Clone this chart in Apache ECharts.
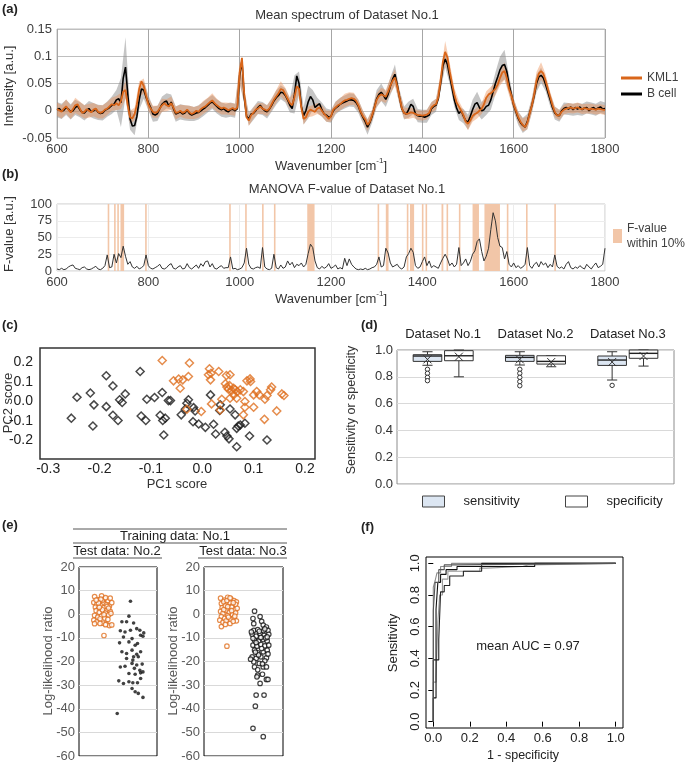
<!DOCTYPE html>
<html><head><meta charset="utf-8">
<script src="https://cdn.jsdelivr.net/npm/echarts@6/dist/echarts.min.js"></script>
<style>html,body{margin:0;padding:0;background:#fff}#c{width:685px;height:764px}</style>
</head><body><div id="c"></div>
<script>
const FONT = 'Liberation Sans, Arial, Helvetica, sans-serif';

// ---------- (a) mean spectra, 600-1800 cm-1, every 5 cm-1 ----------
const wnStart = 600, wnStep = 5;
const kml1Mean = [
0.003,0.001,-0.002,0.004,0.008,0.002,-0.003,0.003,0.010,0.012,0.004,-0.004,-0.002,0.003,0.000,-0.003,0.002,0.004,-0.002,-0.004,
-0.002,0.002,0.004,0.008,0.012,0.010,0.014,0.010,0.018,0.035,0.038,0.010,-0.012,-0.014,-0.006,0.012,0.040,0.054,0.045,0.028,
0.012,0.004,-0.002,-0.004,-0.002,0.004,0.010,0.014,0.010,0.008,0.014,0.006,-0.004,-0.003,0.000,-0.004,-0.002,0.002,-0.003,-0.006,
-0.004,0.000,-0.002,0.003,0.006,0.008,0.012,0.016,0.019,0.014,0.010,0.007,0.004,0.006,0.004,0.001,0.003,0.005,0.002,0.006,
0.070,0.097,0.030,-0.012,-0.018,-0.008,-0.004,0.002,0.004,0.008,0.004,0.002,0.000,0.004,0.012,0.020,0.026,0.032,0.040,0.038,
0.030,0.022,0.014,0.010,0.025,0.045,0.040,0.005,-0.015,-0.012,-0.002,0.002,0.000,-0.002,0.004,0.006,0.000,-0.006,-0.010,-0.015,
-0.010,0.002,0.006,0.010,0.012,0.016,0.019,0.020,0.022,0.023,0.022,0.018,0.010,-0.002,-0.010,-0.016,-0.026,-0.020,-0.008,0.005,
0.020,0.027,0.030,0.028,0.026,0.035,0.046,0.055,0.061,0.045,0.025,0.005,-0.004,-0.006,-0.005,-0.003,-0.004,-0.006,-0.008,-0.008,
-0.009,-0.008,-0.007,-0.004,0.006,0.010,0.012,0.025,0.055,0.090,0.108,0.098,0.072,0.050,0.030,0.015,0.008,0.000,-0.008,-0.020,
-0.024,-0.018,-0.010,-0.006,-0.004,0.000,0.004,0.012,0.024,0.030,0.032,0.036,0.040,0.048,0.060,0.070,0.073,0.060,0.040,0.028,
0.012,0.000,-0.012,-0.020,-0.026,-0.030,-0.022,-0.005,0.010,0.030,0.055,0.068,0.073,0.068,0.055,0.040,0.025,0.010,-0.002,-0.009,
-0.008,-0.002,0.002,0.004,0.005,0.006,0.004,0.005,0.006,0.004,0.003,0.005,0.004,0.002,0.004,0.003,0.002,0.004,0.003,0.002,0.001];
const bcellMean = [
0.002,0.004,-0.001,0.001,0.006,0.003,-0.002,0.000,0.006,0.009,0.002,-0.003,-0.004,0.001,0.004,-0.002,0.000,0.003,-0.003,-0.005,
-0.004,0.001,0.003,0.006,0.010,0.012,0.020,0.022,0.015,0.060,0.080,0.030,-0.015,-0.028,-0.027,-0.010,0.020,0.040,0.038,0.025,
0.015,0.006,-0.006,-0.008,-0.005,0.004,0.012,0.016,0.018,0.008,0.016,0.004,-0.006,-0.004,-0.002,-0.006,-0.004,0.001,-0.005,-0.008,
-0.006,-0.004,-0.003,0.000,0.003,0.006,0.010,0.014,0.016,0.012,0.008,0.004,0.002,0.004,0.000,-0.002,0.002,0.003,0.000,0.004,
0.065,0.092,0.025,-0.010,-0.015,-0.006,-0.005,0.000,0.006,0.010,0.004,0.000,-0.002,0.003,0.010,0.018,0.024,0.028,0.034,0.033,
0.028,0.020,0.010,0.004,0.030,0.064,0.050,0.008,-0.009,0.000,0.016,0.026,0.020,0.006,0.010,0.013,0.002,-0.006,-0.008,-0.012,
-0.010,0.000,0.005,0.008,0.012,0.014,0.016,0.018,0.020,0.020,0.019,0.015,0.008,-0.003,-0.012,-0.020,-0.030,-0.022,-0.010,0.006,
0.022,0.030,0.034,0.028,0.021,0.030,0.045,0.058,0.067,0.048,0.025,0.004,-0.004,-0.006,0.002,0.012,0.008,-0.006,-0.009,-0.010,
-0.010,-0.012,-0.010,-0.008,0.004,0.008,0.010,0.022,0.050,0.082,0.095,0.085,0.063,0.042,0.020,0.005,-0.005,0.000,-0.010,-0.018,
-0.021,-0.010,0.002,0.012,0.015,0.006,0.000,0.002,0.008,0.010,0.020,0.035,0.050,0.062,0.075,0.083,0.085,0.072,0.048,0.030,
0.010,-0.002,-0.014,-0.022,-0.027,-0.030,-0.020,-0.004,0.010,0.028,0.050,0.062,0.065,0.060,0.048,0.034,0.020,0.006,-0.004,-0.008,
-0.009,0.000,0.004,0.006,0.003,0.007,0.002,0.006,0.003,0.007,0.002,0.005,0.006,0.000,0.004,0.006,0.002,0.005,0.007,0.003,0.004];
// band half-widths (standard deviation), every 10 cm-1
const sdStep = 10;
const kml1Sd = [
0.012,0.012,0.013,0.012,0.014,0.013,0.012,0.013,0.012,0.012,
0.012,0.012,0.012,0.013,0.015,0.016,0.012,0.012,0.014,0.014,
0.012,0.011,0.011,0.012,0.011,0.012,0.012,0.011,0.012,0.012,
0.011,0.011,0.012,0.012,0.013,0.012,0.011,0.011,0.011,0.011,
0.020,0.012,0.010,0.010,0.010,0.010,0.010,0.011,0.012,0.014,
0.012,0.010,0.012,0.010,0.010,0.010,0.010,0.010,0.010,0.010,
0.010,0.010,0.011,0.012,0.012,0.011,0.010,0.010,0.011,0.010,
0.012,0.012,0.012,0.014,0.015,0.011,0.010,0.010,0.009,0.009,
0.009,0.009,0.009,0.010,0.014,0.020,0.016,0.012,0.010,0.010,
0.012,0.010,0.010,0.010,0.012,0.012,0.012,0.014,0.016,0.012,
0.010,0.010,0.012,0.012,0.012,0.016,0.016,0.012,0.010,0.010,
0.009,0.009,0.009,0.009,0.009,0.009,0.009,0.009,0.009,0.009,0.009];
const bcellSd = [
0.014,0.014,0.014,0.014,0.014,0.014,0.014,0.014,0.014,0.014,
0.014,0.014,0.016,0.018,0.045,0.055,0.020,0.018,0.018,0.016,
0.014,0.014,0.014,0.014,0.014,0.014,0.014,0.014,0.014,0.014,
0.013,0.013,0.013,0.013,0.013,0.013,0.013,0.013,0.013,0.013,
0.016,0.012,0.012,0.012,0.012,0.012,0.012,0.012,0.013,0.013,
0.013,0.013,0.035,0.022,0.016,0.030,0.018,0.014,0.013,0.012,
0.012,0.012,0.012,0.012,0.012,0.012,0.012,0.012,0.014,0.012,
0.016,0.016,0.014,0.016,0.018,0.014,0.012,0.015,0.014,0.012,
0.012,0.012,0.012,0.012,0.013,0.015,0.014,0.012,0.012,0.013,
0.014,0.018,0.020,0.016,0.016,0.018,0.020,0.024,0.027,0.016,
0.012,0.012,0.014,0.014,0.014,0.016,0.014,0.012,0.012,0.012,
0.011,0.011,0.011,0.011,0.011,0.011,0.011,0.011,0.011,0.011,0.011];

// ---------- (b) MANOVA F-value, every 5 cm-1 ----------
const fValue = [
3,2,4,2,3,6,8,9,4,3,2,5,6,3,2,3,5,7,3,2,
4,8,24,5,6,25,12,26,20,37,22,10,14,6,4,7,3,5,8,24,
8,4,3,5,7,10,4,3,5,9,11,4,3,6,8,3,4,11,5,3,
6,9,4,11,7,14,15,6,11,4,3,6,8,4,5,5,21,3,4,2,
3,5,12,34,10,4,3,5,6,4,35,6,3,2,4,25,5,3,9,4,
6,15,9,13,5,10,8,12,6,10,26,40,35,15,5,3,7,4,6,11,
4,6,9,3,5,3,19,8,18,10,6,3,2,3,2,4,2,3,5,6,
10,21,6,8,34,27,12,6,8,10,5,3,6,21,26,34,28,8,4,6,
14,21,8,15,5,8,6,4,12,19,25,18,8,12,6,10,35,8,12,18,
8,14,25,30,44,48,29,15,22,34,62,87,75,50,37,35,18,29,10,6,
12,5,8,4,6,10,35,8,4,10,13,6,14,9,12,5,10,6,24,7,
4,6,3,10,14,5,3,6,4,8,5,3,10,6,3,8,12,5,7,10,34];
const shadeStart = [711,725,732,739,793,977,1012,1049,1075,1148,1302,1320,1366,1373,1399,1407,1442,1453,1480,1510,1536,1585,1627,1689];
const shadeEnd   = [713,728,735,747,796,979,1015,1051,1077,1164,1305,1326,1368,1382,1401,1409,1446,1455,1482,1524,1570,1587,1629,1691];

// ---------- (c) PCA scores [PC1, PC2] ----------
const pcaBcell = [[-0.255,-0.085],[-0.244,0.022],[-0.218,0.044],[-0.211,-0.017],[-0.213,-0.125],[-0.187,-0.026],[-0.187,0.132],[-0.174,0.080],[-0.174,-0.070],[-0.164,-0.097],[-0.161,0.009],[-0.156,-0.005],[-0.150,0.039],[-0.121,0.154],[-0.119,-0.074],[-0.110,-0.097],[-0.108,0.012],[-0.093,0.021],[-0.078,0.046],[-0.082,-0.070],[-0.077,-0.097],[-0.072,-0.085],[-0.075,-0.171],[-0.066,0.005],[-0.062,0.005],[-0.041,-0.068],[-0.033,-0.039],[-0.030,-0.009],[-0.027,0.009],[-0.018,-0.103],[-0.017,-0.031],[-0.014,-0.048],[-0.007,-0.115],[0.006,-0.132],[0.016,0.034],[0.022,-0.116],[0.026,-0.166],[0.034,-0.046],[0.035,-0.017],[0.044,-0.157],[0.048,-0.176],[0.052,-0.191],[0.054,-0.038],[0.064,-0.068],[0.067,-0.231],[0.067,-0.137],[0.070,-0.125],[0.074,-0.120],[0.083,-0.111],[0.092,-0.176],[0.126,-0.197]];
const pcaKml1 = [[-0.078,0.210],[-0.056,0.106],[-0.046,0.115],[-0.038,0.111],[-0.027,0.128],[-0.043,0.068],[-0.025,0.197],[-0.030,-0.039],[-0.002,-0.051],[0.014,0.168],[0.012,0.137],[0.017,0.145],[0.016,0.111],[0.032,0.154],[0.018,-0.012],[0.035,-0.043],[0.038,0.012],[0.047,0.133],[0.054,0.137],[0.045,0.091],[0.048,0.074],[0.053,0.082],[0.051,0.063],[0.057,0.056],[0.061,0.068],[0.064,0.060],[0.068,0.051],[0.054,0.017],[0.061,0.034],[0.067,0.017],[0.074,0.060],[0.080,0.051],[0.087,0.106],[0.093,0.116],[0.094,0.103],[0.100,0.034],[0.106,0.051],[0.111,0.034],[0.083,0.000],[0.083,-0.029],[0.100,-0.029],[0.080,-0.068],[0.122,0.012],[0.126,0.031],[0.133,0.060],[0.135,0.074],[0.145,-0.048],[0.155,0.039],[0.159,0.031],[0.121,-0.091]];

// ---------- (d) box statistics [datasetIndex, min, q1, median, q3, max, mean] ----------
const datasetNames = ['Dataset No.1','Dataset No.2','Dataset No.3'];
const sensitivityBoxes = [[0,0.886,0.915,0.955,0.965,0.987,0.93],[1,0.888,0.915,0.945,0.96,0.987,0.93],[2,0.776,0.885,0.925,0.955,0.987,0.91]];
const specificityBoxes = [[0,0.80,0.92,0.957,0.995,1.0,0.95],[1,0.875,0.895,0.915,0.957,0.957,0.91],[2,0.88,0.938,0.975,1.0,1.0,0.955]];
const sensitivityOutliers = [[0,0.856],[0,0.826],[0,0.796],[0,0.771],[1,0.856],[1,0.826],[1,0.796],[1,0.764],[1,0.733],[2,0.736]];

// ---------- (e) log-likelihood ratio [jitter position, value] ----------
const llrTest2Kml1 = [[0.20,7.5],[0.24,6.2],[0.29,7.8],[0.33,6.5],[0.37,5.8],[0.40,6.8],[0.19,5.0],[0.23,4.2],[0.27,5.5],[0.31,4.8],[0.35,4.0],[0.39,3.5],[0.42,4.9],[0.21,3.0],[0.25,2.2],[0.28,3.6],[0.32,2.8],[0.36,2.0],[0.40,1.2],[0.22,1.5],[0.26,0.8],[0.30,1.9],[0.34,0.5],[0.38,-0.3],[0.41,0.4],[0.20,-0.5],[0.24,-1.2],[0.29,-0.8],[0.33,-1.6],[0.37,-2.2],[0.19,-2.5],[0.23,-3.2],[0.27,-1.9],[0.31,-3.8],[0.35,-4.2],[0.39,-4.8],[0.42,-4.5],[0.20,-4.0],[0.26,3.0],[0.30,5.9],[0.34,7.0],[0.28,6.4],[0.36,3.3],[0.32,-0.2],[0.25,4.8],[0.22,6.0],[0.38,2.6],[0.27,-3.9],[0.34,-4.4],[0.32,-9.0]];
const llrTest2Bcell = [[0.66,5.5],[0.64,-0.8],[0.61,-3.2],[0.70,-3.7],[0.53,-7.0],[0.59,-7.5],[0.74,-6.1],[0.78,-6.8],[0.83,-7.9],[0.57,-9.6],[0.68,-10.3],[0.79,-8.9],[0.82,-9.3],[0.52,-12.1],[0.64,-11.7],[0.72,-13.1],[0.75,-12.4],[0.55,-15.9],[0.61,-16.6],[0.68,-15.2],[0.74,-16.9],[0.79,-15.9],[0.61,-18.7],[0.69,-19.4],[0.76,-18.0],[0.53,-22.3],[0.59,-22.0],[0.68,-20.8],[0.74,-21.5],[0.81,-21.1],[0.71,-22.9],[0.78,-23.7],[0.82,-24.4],[0.64,-25.1],[0.72,-25.4],[0.79,-24.8],[0.51,-28.2],[0.57,-29.3],[0.64,-28.6],[0.69,-29.0],[0.75,-29.0],[0.79,-27.2],[0.68,-31.4],[0.72,-32.8],[0.76,-33.5],[0.82,-35.2],[0.49,-42.0],[0.66,-6.8],[0.70,-18.0],[0.55,-3.2]];
const llrTest3Kml1 = [[0.21,6.8],[0.26,6.0],[0.30,7.2],[0.34,6.5],[0.38,5.8],[0.41,5.2],[0.22,4.5],[0.25,5.3],[0.29,4.0],[0.33,4.8],[0.36,3.6],[0.40,4.2],[0.23,2.8],[0.27,3.5],[0.31,2.2],[0.35,3.0],[0.39,1.8],[0.42,2.5],[0.21,1.2],[0.24,0.4],[0.28,1.6],[0.32,0.8],[0.36,-0.2],[0.40,0.6],[0.22,-1.0],[0.26,-1.8],[0.30,-0.6],[0.34,-2.2],[0.38,-1.4],[0.41,-2.8],[0.20,-2.5],[0.24,-3.4],[0.28,-2.8],[0.33,-3.9],[0.37,-3.0],[0.22,-5.2],[0.27,-4.3],[0.31,-1.2],[0.35,1.5],[0.29,5.8],[0.25,2.0],[0.37,4.9],[0.30,3.2],[0.39,-0.8],[0.33,6.9],[0.29,-13.5]];
const llrTest3Bcell = [[0.64,1.3],[0.62,-1.8],[0.73,-3.0],[0.75,-4.6],[0.79,-5.4],[0.63,-6.8],[0.68,-6.5],[0.75,-7.0],[0.81,-6.8],[0.61,-8.5],[0.66,-9.3],[0.71,-8.2],[0.76,-8.9],[0.82,-8.5],[0.64,-11.0],[0.69,-11.4],[0.75,-10.7],[0.80,-11.3],[0.62,-13.1],[0.67,-13.5],[0.72,-12.8],[0.77,-13.4],[0.82,-13.1],[0.64,-15.2],[0.68,-16.3],[0.75,-15.9],[0.80,-15.2],[0.61,-18.0],[0.66,-18.7],[0.72,-18.0],[0.79,-18.5],[0.63,-20.1],[0.70,-20.8],[0.77,-19.7],[0.64,-22.3],[0.75,-22.3],[0.79,-22.3],[0.68,-25.8],[0.74,-25.4],[0.67,-26.5],[0.79,-27.6],[0.81,-27.6],[0.71,-29.3],[0.66,-34.2],[0.76,-34.2],[0.65,-38.9],[0.62,-48.3],[0.75,-51.8],[0.60,-7.5],[0.70,-7.2],[0.78,-10.0],[0.66,-12.0],[0.73,-14.5],[0.81,-16.8],[0.69,-17.2],[0.62,-10.2],[0.77,-6.2],[0.72,-9.8],[0.65,-16.0],[0.80,-9.6],[0.59,-19.0],[0.74,-21.0],[0.68,-23.5],[0.63,-4.0],[0.71,-1.0]];

// ---------- (f) ROC curves [1 - specificity, sensitivity] ----------
const roc1 = [[0,0],[0,0.85],[0.01,0.85],[0.01,0.89],[0.02,0.89],[0.02,0.94],[0.04,0.94],[0.04,0.98],[0.10,0.98],[0.10,1],[1,1]];
const roc2 = [[0,0],[0,0.15],[0.015,0.15],[0.015,0.71],[0.025,0.71],[0.025,0.88],[0.04,0.88],[0.04,0.93],[0.07,0.93],[0.07,0.96],[0.13,0.96],[0.13,0.98],[0.556,0.98],[0.556,1],[1,1]];
const roc3 = [[0,0],[0,0.25],[0.015,0.25],[0.015,0.28],[0.025,0.28],[0.025,0.63],[0.035,0.63],[0.035,0.80],[0.05,0.80],[0.05,0.90],[0.08,0.90],[0.08,0.95],[0.255,0.95],[0.255,0.97],[0.29,0.97],[0.29,0.98],[0.49,0.98],[0.49,0.99],[0.52,0.99],[0.52,1],[1,1]];
const roc4 = [[0,0],[0,0.39],[0.03,0.39],[0.03,0.52],[0.04,0.52],[0.04,0.82],[0.06,0.82],[0.06,0.86],[0.09,0.86],[0.09,0.92],[0.165,0.92],[0.165,0.95],[0.265,0.95],[0.265,1],[1,1]];
const roc5 = [[0,0],[0,0.70],[0.01,0.70],[0.01,0.88],[0.03,0.88],[0.03,0.96],[0.06,0.96],[0.06,0.99],[0.13,0.99],[0.13,1],[1,1]];
const rocTicks = [0,0.2,0.4,0.6,0.8,1.0];
const pcaXTicks = [-0.3,-0.2,-0.1,0,0.1,0.2];
const pcaYTicks = [-0.2,-0.1,0,0.1,0.2];

// ================= build =================
const chart = echarts.init(document.getElementById('c'), null, {renderer:'canvas'});
const ORANGE = '#d9661a';
const toXY = arr => arr.map((v,i) => [wnStart + wnStep*i, v]);

function bandRender(mean, sd, color){
  return function(params, api){
    if (params.dataIndex !== 0) return;
    const up = [], lo = [];
    const ratio = sdStep / wnStep;
    for (let i = 0; i < sd.length; i++){
      const x = wnStart + sdStep*i, m = mean[i*ratio];
      up.push(api.coord([x, m + sd[i]]));
      lo.push(api.coord([x, m - sd[i]]));
    }
    return {type:'polygon', shape:{points: up.concat(lo.reverse())}, style:{fill: color}};
  };
}
function shadeRender(params, api){
  const p0 = api.coord([api.value(0), 100]);
  const p1 = api.coord([api.value(1), 0]);
  const w = Math.max(p1[0]-p0[0], 1.6);
  return {type:'rect', shape:{x:p0[0], y:p0[1], width:w, height:p1[1]-p0[1]}, style:{fill:'#f2c6a8'}};
}
const OFF = 0.17;
function boxRender(off, fill){
  return function(params, api){
    const cat = api.value(0);
    const bw = api.size([1,0])[0];
    const cx = api.coord([cat, 0])[0] + off*bw;
    const hw = bw*0.155, cap = bw*0.055;
    const Y = v => api.coord([cat, v])[1];
    const mn = api.value(1), q1 = api.value(2), md = api.value(3), q3 = api.value(4), mx = api.value(5), mean = api.value(6);
    const ls = {stroke:'#333', lineWidth:1};
    const ym = Y(mean), s = 4;
    return {type:'group', children:[
      {type:'line', shape:{x1:cx,y1:Y(q3),x2:cx,y2:Y(mx)}, style:ls},
      {type:'line', shape:{x1:cx,y1:Y(q1),x2:cx,y2:Y(mn)}, style:ls},
      {type:'line', shape:{x1:cx-cap,y1:Y(mx),x2:cx+cap,y2:Y(mx)}, style:ls},
      {type:'line', shape:{x1:cx-cap,y1:Y(mn),x2:cx+cap,y2:Y(mn)}, style:ls},
      {type:'rect', shape:{x:cx-hw,y:Y(q3),width:2*hw,height:Y(q1)-Y(q3)}, style:{fill:fill, stroke:'#333', lineWidth:1}},
      {type:'line', shape:{x1:cx-hw,y1:Y(md),x2:cx+hw,y2:Y(md)}, style:{stroke:'#222', lineWidth:1.4}},
      {type:'line', shape:{x1:cx-s,y1:ym-s,x2:cx+s,y2:ym+s}, style:ls},
      {type:'line', shape:{x1:cx-s,y1:ym+s,x2:cx+s,y2:ym-s}, style:ls}
    ]};
  };
}
function outlierRender(params, api){
  const cat = api.value(0);
  const bw = api.size([1,0])[0];
  const p = api.coord([cat, api.value(1)]);
  return {type:'circle', shape:{cx:p[0]-OFF*bw, cy:p[1], r:2.2}, style:{fill:'#fff', stroke:'#333', lineWidth:1}};
}

function T(text, x, y, o){
  o = o || {};
  const st = {text:text, fill:o.color||'#333', fontSize:o.size||13, fontFamily:FONT, fontWeight:o.bold?'bold':'normal',
    textAlign:o.align||'center', align:o.align||'center', textVerticalAlign:'middle', verticalAlign:'middle'};
  if (o.rich) st.rich = o.rich;
  return {type:'text', x:x, y:y, rotation:o.rot?Math.PI/2:0, silent:true, style:st};
}
const supRich = c => ({n:{fontSize:13, fontFamily:FONT, fill:c, color:c, verticalAlign:'bottom', lineHeight:16},
                       s:{fontSize:8, fontFamily:FONT, fill:c, color:c, verticalAlign:'top', lineHeight:16}});
const L = (x1,y1,x2,y2) => ({type:'line', silent:true, shape:{x1,y1,x2,y2}, style:{stroke:'#555', lineWidth:1}});

const lab = (c, sz, m) => ({fontSize:sz, color:c, fontFamily:FONT, margin:m});
const valAxisA = (gi) => ({gridIndex:gi, type:'value', min:600, max:1800, interval:200,
  axisLine:{show:false}, axisTick:{show:false}, axisLabel:Object.assign(lab('#404040',13,5), {formatter:v=>String(v)}),
  splitLine:{show:true, lineStyle:{color: gi===0 ? '#a6a6a6' : '#ececec'}}});

const option = {
  animation:false,
  textStyle:{fontFamily:FONT},
  grid:[
    {left:57, top:29, width:548, height:109, show:true, borderColor:'#bfbfbf', borderWidth:1},
    {left:57, top:204, width:548, height:67, show:true, borderColor:'#c8c8c8', borderWidth:1},
    {left:40, top:348, width:275, height:111, show:true, borderColor:'#333', borderWidth:1.5},
    {left:397, top:350, width:277, height:134, show:true, borderColor:'#8c8c8c', borderWidth:1},
    {left:79, top:567, width:78, height:189, show:true, borderColor:'#000', borderWidth:1},
    {left:204, top:567, width:79, height:189, show:true, borderColor:'#000', borderWidth:1},
    {left:426, top:557, width:197, height:171, show:true, borderColor:'#000', borderWidth:1}
  ],
  xAxis:[
    valAxisA(0), valAxisA(1),
    {gridIndex:2, type:'value', min:-0.316, max:0.2195, axisLine:{show:false}, axisTick:{show:false}, splitLine:{show:false},
      axisLabel:Object.assign(lab('#222',14,3), {customValues:pcaXTicks, formatter:v=>v.toFixed(1)})},
    {gridIndex:3, type:'category', data:datasetNames, position:'top', axisLine:{show:false}, axisTick:{show:false},
      axisLabel:Object.assign(lab('#222',13,9), {interval:0}), splitLine:{show:false}},
    {gridIndex:4, type:'value', min:0, max:1, show:false},
    {gridIndex:5, type:'value', min:0, max:1, show:false},
    {gridIndex:6, type:'value', min:-0.04, max:1.04, axisLine:{show:false}, splitLine:{show:false},
      axisTick:{show:true, customValues:rocTicks, length:5, lineStyle:{color:'#000'}},
      axisLabel:Object.assign(lab('#222',13,4), {customValues:rocTicks, formatter:v=>v.toFixed(1)})}
  ],
  yAxis:[
    {gridIndex:0, type:'value', min:-0.05, max:0.15, interval:0.05, axisLine:{show:false}, axisTick:{show:false},
      axisLabel:lab('#404040',13,5), splitLine:{lineStyle:{color:'#bfbfbf'}}},
    {gridIndex:1, type:'value', min:0, max:100, interval:25, axisLine:{show:false}, axisTick:{show:false},
      axisLabel:lab('#404040',13,5), splitLine:{lineStyle:{color:'#ececec'}}},
    {gridIndex:2, type:'value', min:-0.294, max:0.274, axisLine:{show:false}, axisTick:{show:false}, splitLine:{show:false},
      axisLabel:Object.assign(lab('#222',14,7), {customValues:pcaYTicks, formatter:v=>v.toFixed(1)})},
    {gridIndex:3, type:'value', min:0, max:1, interval:0.2, axisLine:{show:false}, axisTick:{show:false},
      axisLabel:Object.assign(lab('#333',13,4), {formatter:v=>v.toFixed(1)}), splitLine:{lineStyle:{color:'#d9d9d9'}}},
    {gridIndex:4, type:'value', min:-60, max:20, interval:10, axisLine:{show:false}, axisTick:{show:false},
      axisLabel:lab('#595959',13,4), splitLine:{lineStyle:{color:'#d9d9d9'}}},
    {gridIndex:5, type:'value', min:-60, max:20, interval:10, axisLine:{show:false}, axisTick:{show:false},
      axisLabel:lab('#595959',13,4), splitLine:{lineStyle:{color:'#d9d9d9'}}},
    {gridIndex:6, type:'value', min:-0.04, max:1.04, axisLine:{show:false}, splitLine:{show:false},
      axisTick:{show:true, customValues:rocTicks, length:5, lineStyle:{color:'#000'}},
      axisLabel:Object.assign(lab('#222',13,4), {customValues:rocTicks, formatter:v=>v.toFixed(1), rotate:90})}
  ],
  legend:[
    {data:['KML1','B cell'], left:616, top:67, orient:'vertical', icon:'rect', itemWidth:21, itemHeight:3, itemGap:4,
      textStyle:{fontSize:12, color:'#404040', fontFamily:FONT}, selectedMode:false},
    {data:['F-value within 10%'], left:613, top:221, icon:'rect', itemWidth:9, itemHeight:14, itemGap:0, selectedMode:false,
      formatter:'F-value\nwithin 10%', padding:0, textStyle:{fontSize:12, color:'#404040', fontFamily:FONT, lineHeight:15}},
    {data:['sensitivity'], left:417, top:490, icon:'rect', itemWidth:22, itemHeight:11, selectedMode:false,
      itemStyle:{borderColor:'#444', borderWidth:1}, textStyle:{fontSize:13, color:'#222', fontFamily:FONT, padding:[0,0,0,14]}},
    {data:['specificity'], left:560, top:490, icon:'rect', itemWidth:22, itemHeight:11, selectedMode:false,
      itemStyle:{borderColor:'#444', borderWidth:1}, textStyle:{fontSize:13, color:'#222', fontFamily:FONT, padding:[0,0,0,14]}}
  ],
  series:[
    // (a)
    {type:'custom', name:'B cell band', xAxisIndex:0, yAxisIndex:0, data:[[600,0]], z:1, silent:true,
      renderItem:bandRender(bcellMean, bcellSd, 'rgba(140,140,140,0.5)')},
    {type:'custom', name:'KML1 band', xAxisIndex:0, yAxisIndex:0, data:[[600,0]], z:1, silent:true,
      renderItem:bandRender(kml1Mean, kml1Sd, 'rgba(235,140,80,0.42)')},
    {type:'line', name:'B cell', xAxisIndex:0, yAxisIndex:0, data:toXY(bcellMean), showSymbol:false, z:3,
      itemStyle:{color:'#000'}, lineStyle:{color:'#000', width:1.6}},
    {type:'line', name:'KML1', xAxisIndex:0, yAxisIndex:0, data:toXY(kml1Mean), showSymbol:false, z:4,
      itemStyle:{color:ORANGE}, lineStyle:{color:ORANGE, width:1.8}},
    // (b)
    {type:'custom', name:'F-value within 10%', xAxisIndex:1, yAxisIndex:1, z:1, silent:true,
      data:shadeStart.map((s,i)=>[s, shadeEnd[i]]), encode:{x:[0,1]}, itemStyle:{color:'#f2c6a8'}, renderItem:shadeRender},
    {type:'line', name:'F-value', xAxisIndex:1, yAxisIndex:1, data:toXY(fValue), showSymbol:false, z:3,
      lineStyle:{color:'#333', width:1}},
    // (c)
    {type:'scatter', name:'B cell PCA', xAxisIndex:2, yAxisIndex:2, data:pcaBcell, symbol:'diamond', symbolSize:8,
      itemStyle:{color:'rgba(0,0,0,0)', borderColor:'#1a1a1a', borderWidth:1.5}},
    {type:'scatter', name:'KML1 PCA', xAxisIndex:2, yAxisIndex:2, data:pcaKml1, symbol:'diamond', symbolSize:8,
      itemStyle:{color:'rgba(0,0,0,0)', borderColor:'#df6f1f', borderWidth:1.5}},
    // (d)
    {type:'custom', name:'sensitivity', xAxisIndex:3, yAxisIndex:3, data:sensitivityBoxes, encode:{x:0, y:[1,2,3,4,5,6]},
      itemStyle:{color:'#dce6f2', borderColor:'#444', borderWidth:1}, renderItem:boxRender(-OFF, '#dce6f2')},
    {type:'custom', name:'specificity', xAxisIndex:3, yAxisIndex:3, data:specificityBoxes, encode:{x:0, y:[1,2,3,4,5,6]},
      itemStyle:{color:'#ffffff', borderColor:'#444', borderWidth:1}, renderItem:boxRender(OFF, '#ffffff')},
    {type:'custom', name:'sensitivity outliers', xAxisIndex:3, yAxisIndex:3, data:sensitivityOutliers, encode:{x:0, y:1},
      renderItem:outlierRender},
    // (e)
    {type:'scatter', xAxisIndex:4, yAxisIndex:4, data:llrTest2Kml1, symbol:'circle', symbolSize:4.5,
      itemStyle:{color:'#fff', borderColor:'#e07020', borderWidth:1.2}},
    {type:'scatter', xAxisIndex:4, yAxisIndex:4, data:llrTest2Bcell, symbol:'circle', symbolSize:3.6,
      itemStyle:{color:'#111'}},
    {type:'scatter', xAxisIndex:5, yAxisIndex:5, data:llrTest3Kml1, symbol:'circle', symbolSize:4.5,
      itemStyle:{color:'#fff', borderColor:'#e07020', borderWidth:1.2}},
    {type:'scatter', xAxisIndex:5, yAxisIndex:5, data:llrTest3Bcell, symbol:'circle', symbolSize:4.5,
      itemStyle:{color:'#fff', borderColor:'#111', borderWidth:1.2}},
    // (f)
    {type:'line', xAxisIndex:6, yAxisIndex:6, data:roc1, showSymbol:false, lineStyle:{color:'#8c8c8c', width:1.1}},
    {type:'line', xAxisIndex:6, yAxisIndex:6, data:roc3, showSymbol:false, lineStyle:{color:'#999', width:1.1}},
    {type:'line', xAxisIndex:6, yAxisIndex:6, data:roc2, showSymbol:false, lineStyle:{color:'#111', width:1.1}},
    {type:'line', xAxisIndex:6, yAxisIndex:6, data:roc4, showSymbol:false, lineStyle:{color:'#222', width:1.1}},
    {type:'line', xAxisIndex:6, yAxisIndex:6, data:roc5, showSymbol:false, lineStyle:{color:'#555', width:1.1}}
  ],
  graphic:[
    T('(a)', 2, 9, {align:'left', bold:true, color:'#222'}),
    T('Mean spectrum of Dataset No.1', 347, 15, {color:'#333'}),
    T('{n|Wavenumber [cm}{s|-1}{n|]}', 331, 165, {rich:supRich('#333')}),
    T('Intensity [a.u.]', 9, 86, {rot:true, color:'#333'}),
    T('(b)', 2, 174, {align:'left', bold:true, color:'#222'}),
    T('MANOVA F-value of Dataset No.1', 347, 189, {color:'#333'}),
    T('{n|Wavenumber [cm}{s|-1}{n|]}', 331, 298, {rich:supRich('#333')}),
    T('F-value [a.u.]', 9, 234, {rot:true, color:'#333'}),
    T('(c)', 2, 325, {align:'left', bold:true, color:'#222'}),
    T('PC1 score', 177, 484, {color:'#333'}),
    T('PC2 score', 8, 403, {rot:true, color:'#333'}),
    T('(d)', 361, 325, {align:'left', bold:true, color:'#222'}),
    T('Sensitivity or specificity', 352, 410, {rot:true, color:'#333', size:12.5}),
    T('(e)', 2, 525, {align:'left', bold:true, color:'#222'}),
    L(73,529,287,529), L(73,543,287,543), L(73,558,162,558), L(198,558,287,558),
    T('Training data: No.1', 175, 536, {color:'#222'}),
    T('Test data: No.2', 117, 551, {color:'#222'}),
    T('Test data: No.3', 243, 551, {color:'#222'}),
    T('Log-likelihood ratio', 48, 661, {rot:true, color:'#595959'}),
    T('Log-likelihood ratio', 173, 661, {rot:true, color:'#595959'}),
    T('(f)', 361, 527, {align:'left', bold:true, color:'#222'}),
    T('Sensitivity', 393, 643, {rot:true, color:'#222'}),
    T('1 - specificity', 523, 756, {color:'#222', size:12.5}),
    T('mean AUC = 0.97', 528, 646, {color:'#222'})
  ]
};
chart.setOption(option);
</script></body></html>
